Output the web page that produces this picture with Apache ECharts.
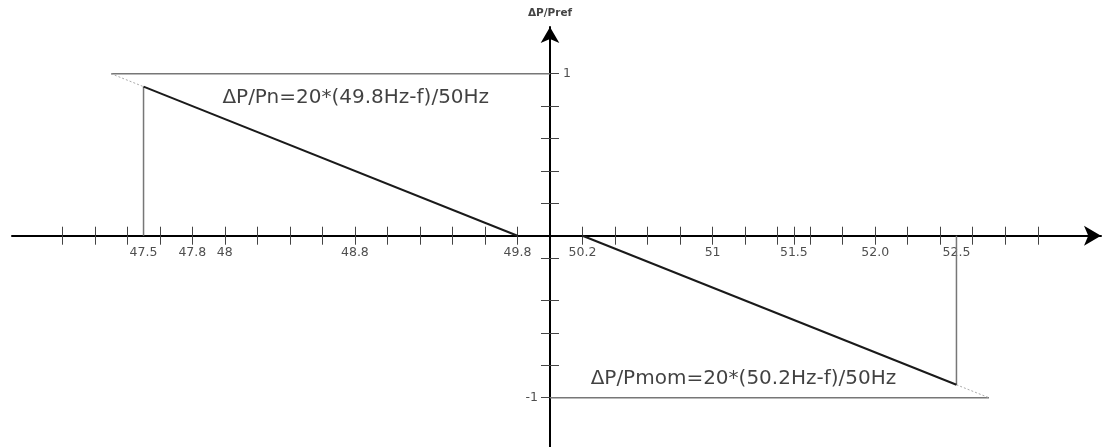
<!DOCTYPE html>
<html>
<head>
<meta charset="utf-8">
<script src="https://cdn.jsdelivr.net/npm/echarts@6/dist/echarts.min.js"></script>
<style>
  html, body { margin: 0; padding: 0; background: #fff; }
  #chart { width: 1105px; height: 447px; }
</style>
</head>
<body>
<div id="chart"></div>
<script>
// nominal frequency, the y axis sits here
const F0 = 50;

// frequency ticks (Hz), 0.2 Hz apart, plus the extra 51.5 mark
const tickFreqs = [47.0, 47.2, 47.4, 47.6, 47.8, 48.0, 48.2, 48.4, 48.6, 48.8, 49.0, 49.2, 49.4, 49.6, 49.8,
                   50.2, 50.4, 50.6, 50.8, 51.0, 51.2, 51.4, 51.5, 51.6, 51.8, 52.0, 52.2, 52.4, 52.6, 52.8, 53.0];
const labelFreqs = [47.5, 47.8, 48, 48.8, 49.8, 50.2, 51, 51.5, 52.0, 52.5];
const labelTexts = ['47.5', '47.8', '48', '48.8', '49.8', '50.2', '51', '51.5', '52.0', '52.5'];

// ΔP/Pref ticks and the two labelled ones
const powerTicks = [1, 0.8, 0.6, 0.4, 0.2, -0.14, -0.4, -0.6, -0.8, -1];
const powerLabelUp = 1;
const powerLabelDown = -1;

// under-frequency droop: ΔP/Pn = 20*(49.8-f)/50
const underFreq = [47.5, 49.8];
const underPower = [0.92, 0];
const underExtFreq = [47.3, 47.5];
const underExtPower = [1, 0.92];
// over-frequency droop: ΔP/Pmom = 20*(50.2-f)/50
const overFreq = [50.2, 52.5];
const overPower = [0, -0.92];
const overExtFreq = [52.5, 52.7];
const overExtPower = [-0.92, -1];

// limit lines at ±1 and the drop lines at 47.5 / 52.5
const upperLimitFreq = [47.3, 50];
const lowerLimitFreq = [50, 52.7];
const dropFreqs = [47.5, 52.5];
const dropPowers = [0.92, -0.92];

const formulaTexts = ['ΔP/Pn=20*(49.8Hz-f)/50Hz', 'ΔP/Pmom=20*(50.2Hz-f)/50Hz'];
const formulaFreqs = [47.985, 50.25];
const formulaPowers = [0.85, -0.885];

const df = f => +(f - F0).toFixed(4);
const pts = (fs, ps) => fs.map((f, i) => [df(f), ps[i]]);

const tickVals = tickFreqs.map(df);

const font = '"DejaVu Sans", sans-serif';
const labelFont = { fontSize: 12.5, fontFamily: font, color: '#222' };

const lineSeries = (data, color, width, type) => ({
  type: 'line',
  data: data,
  symbol: 'none',
  silent: true,
  animation: false,
  lineStyle: { color: color, width: width, type: type || 'solid' }
});

// invisible points that only carry a text label
const textSeries = (items, position, distance, style) => ({
  type: 'scatter',
  silent: true,
  symbolSize: 0,
  animation: false,
  data: items,
  label: Object.assign({
    show: true,
    position: position,
    distance: distance,
    formatter: p => p.name
  }, style)
});

const axisCommon = (min, max) => ({
  type: 'value',
  min: min,
  max: max,
  splitLine: { show: false },
  axisLabel: { show: false }
});

const X_MIN = -3.309, X_MAX = 3.389;
const Y_MIN = -1.304, Y_MAX = 1.288;

const chart = echarts.init(document.getElementById('chart'));
chart.setOption({
  animation: false,
  grid: { left: 12, right: 4, top: 27, bottom: 0, outerBoundsMode: 'none' },
  xAxis: [
    Object.assign(axisCommon(X_MIN, X_MAX), {
      position: 'bottom',
      axisLine: {
        onZero: true,
        symbol: ['none', 'arrow'],
        symbolSize: [15, 17],
        lineStyle: { color: '#000', width: 2 }
      },
      axisTick: { customValues: tickVals, length: 9, lineStyle: { color: '#444', width: 1 } }
    }),
    Object.assign(axisCommon(X_MIN, X_MAX), {
      position: 'bottom',
      axisLine: { show: false, onZero: true },
      axisTick: { inside: true, customValues: tickVals, length: 9, lineStyle: { color: '#444', width: 1 } }
    })
  ],
  yAxis: [
    Object.assign(axisCommon(Y_MIN, Y_MAX), {
      position: 'left',
      name: 'ΔP/Pref',
      nameLocation: 'end',
      nameGap: 8,
      nameTextStyle: { fontSize: 10.5, fontWeight: 'bold', color: '#444', fontFamily: font },
      axisLine: {
        onZero: true,
        symbol: ['none', 'arrow'],
        symbolSize: [14, 16],
        lineStyle: { color: '#000', width: 2 }
      },
      axisTick: { inside: true, customValues: powerTicks, length: 9, lineStyle: { color: '#444', width: 1 } }
    }),
    Object.assign(axisCommon(Y_MIN, Y_MAX), {
      position: 'left',
      axisLine: { show: false, onZero: true },
      axisTick: { customValues: powerTicks, length: 9, lineStyle: { color: '#444', width: 1 } }
    })
  ],
  series: [
    lineSeries(pts(upperLimitFreq, [1, 1]), '#777', 1.5),
    lineSeries(pts(lowerLimitFreq, [-1, -1]), '#777', 1.5),
    lineSeries(pts([dropFreqs[0], dropFreqs[0]], [0, dropPowers[0]]), '#777', 1.5),
    lineSeries(pts([dropFreqs[1], dropFreqs[1]], [0, dropPowers[1]]), '#777', 1.5),
    lineSeries(pts(underExtFreq, underExtPower), '#aaa', 1, [2, 2]),
    lineSeries(pts(overExtFreq, overExtPower), '#aaa', 1, [2, 2]),
    lineSeries(pts(underFreq, underPower), '#1a1a1a', 2),
    lineSeries(pts(overFreq, overPower), '#1a1a1a', 2),
    // frequency tick labels under the x axis
    textSeries(labelFreqs.map((f, i) => ({ name: labelTexts[i], value: [df(f), 0] })), 'bottom', 11, labelFont),
    // ΔP/Pref labels beside the y axis
    textSeries([{ name: String(powerLabelUp), value: [0, powerLabelUp] }], 'right', 13, labelFont),
    textSeries([{ name: String(powerLabelDown), value: [0, powerLabelDown] }], 'left', 12, labelFont),
    // droop formulas
    textSeries(formulaTexts.map((t, i) => ({ name: t, value: [df(formulaFreqs[i]), formulaPowers[i]] })),
      'right', 0, { fontSize: 20, fontFamily: font, color: '#111' })
  ]
});
</script>
</body>
</html>
